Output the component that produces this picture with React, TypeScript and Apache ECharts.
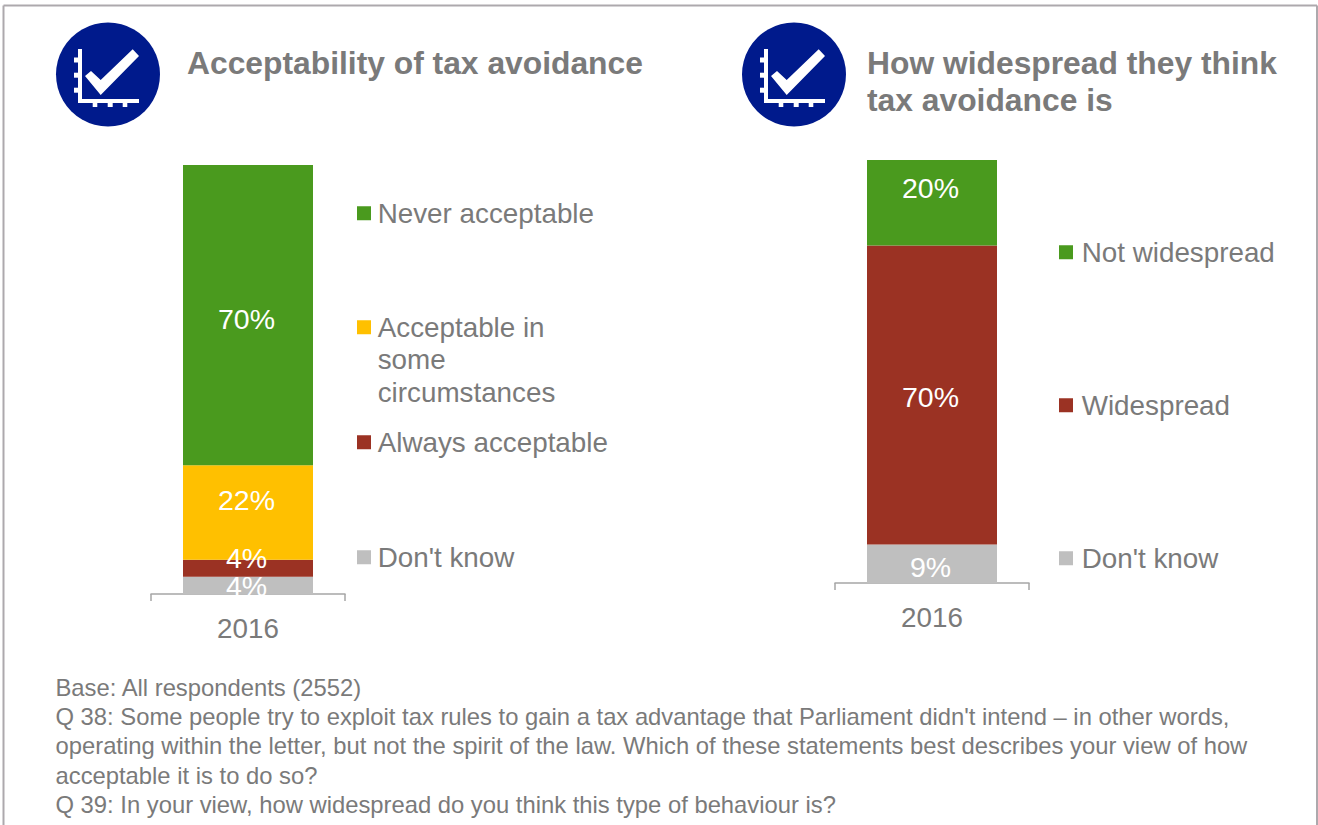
import React, { useEffect, useRef } from "react";
import * as echarts from "echarts";

const years = ["2016"];

const acceptabilityNames = ["Don't know", "Always acceptable", "Acceptable in some circumstances", "Never acceptable"];
const acceptabilityValues = [4, 4, 22, 70];
const acceptabilityColors = ["#BFBFBF", "#9B3223", "#FFC000", "#4A9A1E"];
const acceptabilityLabelShift = [1, -10, -12, 4];
const acceptabilityLegendTops = [541, 426, 246, 197];

const widespreadNames = ["Don't know ", "Widespread", "Not widespread"];
const widespreadValues = [9, 70, 20];
const widespreadColors = ["#BFBFBF", "#9B3223", "#4A9A1E"];
const widespreadLabelShift = [3, 2, -15];
const widespreadLegendTops = [542, 389, 236];

const leftTitle = "Acceptability of tax avoidance";
const rightTitle = "How widespread they think\ntax avoidance is";
const footnote = [
  "Base: All respondents (2552)",
  "Q 38: Some people try to exploit tax rules to gain a tax advantage that Parliament didn't intend – in other words,",
  "operating within the letter, but not the spirit of the law. Which of these statements best describes your view of how",
  "acceptable it is to do so?",
  "Q 39: In your view, how widespread do you think this type of behaviour is?",
];

const FONT = '"Liberation Sans", Arial, sans-serif';
const GREY_TEXT = "#7A7A7A";
const FRAME = "#ADA9AD";
const NAVY = "#001A8C";

// The two leading blank lines keep a wrapped entry's first line level with its swatch.
const wrapLegend = (name: string) =>
  name === "Acceptable in some circumstances" ? "\n\nAcceptable in\nsome\ncircumstances" : name.trim();

// Round badge with a tick over a small pair of chart axes.
function badge(x: number) {
  const white = { fill: "#fff" };
  const bar = (rx: number, ry: number, w: number, h: number) => ({
    type: "rect",
    shape: { x: rx, y: ry, width: w, height: h },
    style: white,
  });
  return {
    type: "group",
    x,
    y: 0,
    children: [
      { type: "circle", shape: { cx: 52, cy: 74.5, r: 52 }, style: { fill: NAVY } },
      bar(22, 49, 4, 54),
      bar(22, 99, 61, 4),
      bar(18, 57.5, 4, 5),
      bar(18, 72.7, 4, 5),
      bar(18, 87.7, 4, 5),
      bar(36.7, 103, 4.6, 4),
      bar(51.7, 103, 5, 4),
      bar(66.7, 103, 4.6, 4),
      {
        type: "polygon",
        shape: { points: [[29, 76], [35, 71], [44.7, 80], [76.7, 49.3], [83, 56], [44.7, 95]] },
        style: white,
      },
    ],
  };
}

function stackedSeries(
  names: string[],
  values: number[],
  colors: string[],
  shifts: number[],
  axisIndex: number,
) {
  return names.map((name, i) => ({
    type: "bar",
    name,
    stack: `stack${axisIndex}`,
    xAxisIndex: axisIndex,
    yAxisIndex: axisIndex,
    barWidth: 130,
    data: [values[i]],
    itemStyle: { color: colors[i] },
    label: {
      show: true,
      position: "inside",
      offset: [-1.5, shifts[i]],
      formatter: "{c}%",
      color: "#fff",
      fontFamily: FONT,
      fontSize: 28.5,
    },
  }));
}

// A 14px swatch inside a wider symbol box, which sets the gap before the legend text.
function legendsFor(names: string[], tops: number[], left: number, boxWidth: number) {
  const icon = `path://M0 0H14V14H0ZM${boxWidth} 14L${boxWidth} 14`;
  return names.map((name, i) => ({
    data: [{ name, icon }],
    left,
    top: tops[i],
    orient: "vertical",
    selectedMode: false,
    itemWidth: boxWidth,
    itemHeight: 14,
    padding: 0,
    formatter: wrapLegend,
    textStyle: {
      fontFamily: FONT,
      fontSize: 27.8,
      color: GREY_TEXT,
      lineHeight: 32.5,
    },
  }));
}

const categoryAxis = (gridIndex: number) => ({
  type: "category",
  gridIndex,
  data: years,
  axisLine: { lineStyle: { color: "#A6A6A6", width: 1.5 } },
  axisTick: { show: true, length: 7, lineStyle: { color: "#A6A6A6", width: 1.5 } },
  axisLabel: { color: GREY_TEXT, fontFamily: FONT, fontSize: 27.8, margin: 20 },
});

export default function App() {
  const ref = useRef<HTMLDivElement>(null);

  useEffect(() => {
    const chart = echarts.init(ref.current!, undefined, { renderer: "svg" });
    chart.setOption({
      animation: false,
      backgroundColor: "#fff",
      grid: [
        { left: 151, width: 194, top: 165, height: 429 },
        { left: 835, width: 194, top: 160, height: 423 },
      ],
      xAxis: [categoryAxis(0), categoryAxis(1)],
      yAxis: [
        { type: "value", gridIndex: 0, min: 0, max: 100, show: false },
        { type: "value", gridIndex: 1, min: 0, max: 99, show: false },
      ],
      legend: [
        ...legendsFor(acceptabilityNames, acceptabilityLegendTops, 357, 15.7),
        ...legendsFor(widespreadNames, widespreadLegendTops, 1059, 17.7),
      ],
      series: [
        ...stackedSeries(acceptabilityNames, acceptabilityValues, acceptabilityColors, acceptabilityLabelShift, 0),
        ...stackedSeries(widespreadNames, widespreadValues, widespreadColors, widespreadLabelShift, 1),
      ],
      graphic: [
        { type: "line", shape: { x1: 3.5, y1: 5.5, x2: 1317, y2: 5.5 }, style: { stroke: FRAME, lineWidth: 2 } },
        { type: "line", shape: { x1: 3.5, y1: 5.5, x2: 3.5, y2: 825 }, style: { stroke: FRAME, lineWidth: 2 } },
        { type: "line", shape: { x1: 1317, y1: 5.5, x2: 1317, y2: 825 }, style: { stroke: FRAME, lineWidth: 2 } },
        badge(56),
        badge(742),
        {
          type: "text",
          x: 187,
          y: 45,
          style: { text: leftTitle, fill: GREY_TEXT, font: `bold 31.8px ${FONT}`, lineHeight: 36.5 },
        },
        {
          type: "text",
          x: 867,
          y: 45,
          style: { text: rightTitle, fill: GREY_TEXT, font: `bold 31.8px ${FONT}`, lineHeight: 36.5 },
        },
        ...footnote.map((line, i) => ({
          type: "text",
          x: 55.5,
          y: 675.5 + i * 29.2,
          style: { text: line, fill: GREY_TEXT, font: `23.8px ${FONT}` },
        })),
      ],
    });
    return () => chart.dispose();
  }, []);

  return <div ref={ref} style={{ position: "fixed", left: 0, top: 0, width: 1318, height: 825 }} />;
}
